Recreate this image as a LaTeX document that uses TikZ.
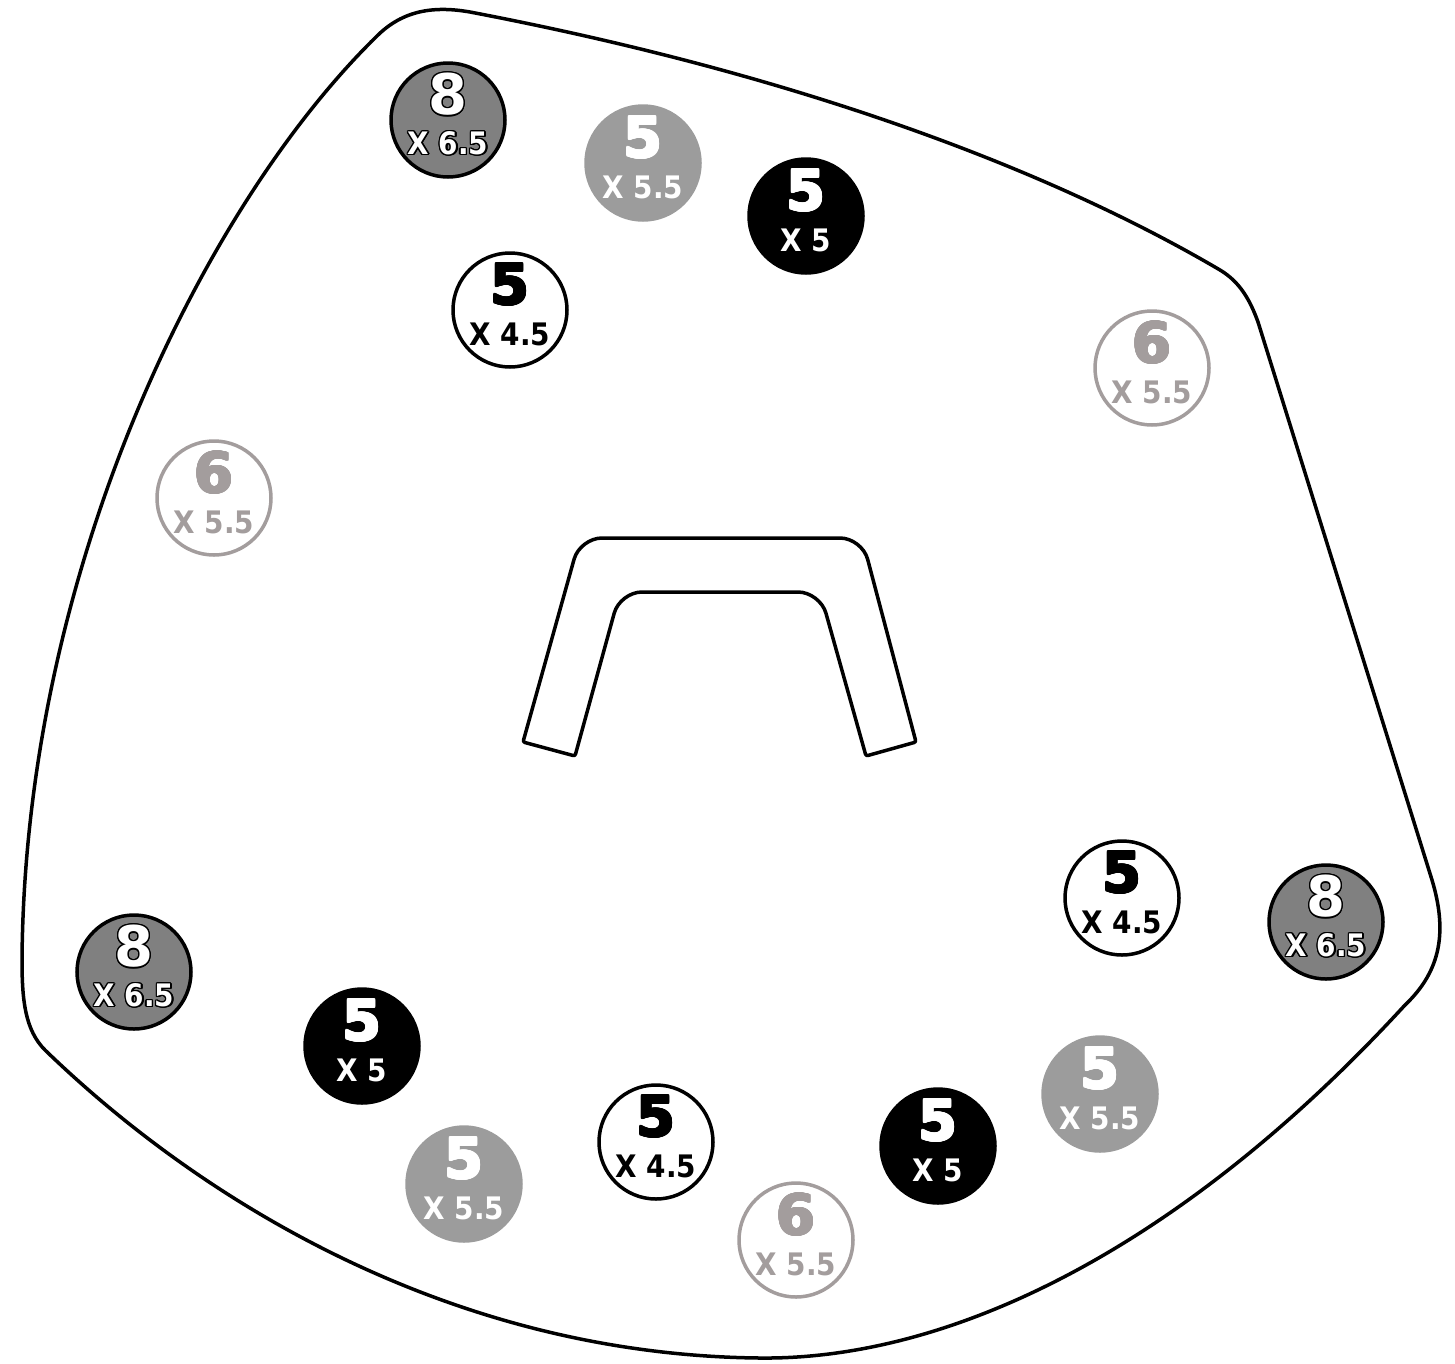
\documentclass[tikz,border=0pt]{standalone}
\usepackage{fontspec}
\usepackage{contour}
\newfontfamily\numfont{DejaVu Sans}
\newfontfamily\subfont{DejaVu Sans Condensed}
\contourlength{1.4pt}
\definecolor{darkg}{HTML}{808080}
\definecolor{midg}{HTML}{9C9C9C}
\definecolor{lightg}{HTML}{A39D9D}
\tikzset{
  disc/.style={circle, minimum size=114pt, inner sep=0pt, line width=3.5pt},
  eightdisc/.style={disc, fill=darkg, draw=black},
  graydisc/.style={disc, fill=midg, draw=midg},
  blackdisc/.style={disc, fill=black, draw=black},
  whitedisc/.style={disc, fill=white, draw=black},
  ringdisc/.style={disc, fill=white, draw=lightg},
  digitfont/.style={font=\numfont\bfseries\fontsize{56}{56}\selectfont},
  subtextfont/.style={font=\subfont\bfseries\fontsize{31}{31}\selectfont},
}
\newcommand{\holelabel}[4]{%
  \node[digitfont] at ([yshift=25pt]#1.center) {\contourlength{0.9pt}\contour{#4}{\textcolor{#4}{#2}}};
  \node[subtextfont, text=#4] at ([yshift=-24pt]#1.center) {#3};
}
\newcommand{\outlinedlabel}[3]{%
  \node[digitfont] at ([yshift=25pt]#1.center) {\contour{black}{\textcolor{white}{#2}}};
  \node[subtextfont] at ([yshift=-24pt]#1.center) {\contour{black}{\textcolor{white}{#3}}};
}
\begin{document}
\begin{tikzpicture}[x=1pt,y=-1pt]
\useasboundingbox (0,0) rectangle (1455,1363);
% outer plate outline
\draw[line width=3.5pt, line join=round]
  (22,960) .. controls (25,560) and (210,200) .. (375,38)
  .. controls (400,12) and (430,5) .. (470,12)
  .. controls (800,75) and (1050,170) .. (1220,270)
  .. controls (1240,282) and (1250,300) .. (1258,322)
  -- (1432,880)
  .. controls (1447,930) and (1442,970) .. (1405,1005)
  .. controls (1180,1250) and (950,1360) .. (760,1358)
  .. controls (450,1355) and (200,1200) .. (45,1050)
  .. controls (25,1030) and (22,1000) .. cycle;
% handle
\draw[line width=3.5pt, line join=round]
  (523,742) [rounded corners=22pt]-- (580,538) -- (862,538) [rounded corners=2pt]-- (916,742) -- (866,756)
  [rounded corners=22pt]-- (820,592) -- (620,592) [rounded corners=2pt]-- (575,756) -- cycle;
% holes
\node[eightdisc] (h1) at (448,120) {};
\node[graydisc]  (h2) at (643,163) {};
\node[blackdisc] (h3) at (806,216) {};
\node[whitedisc] (h4) at (510,310) {};
\node[ringdisc]  (h5) at (1152,368) {};
\node[ringdisc]  (h6) at (214,498) {};
\node[whitedisc] (h7) at (1122,898) {};
\node[eightdisc] (h8) at (1326,922) {};
\node[eightdisc] (h9) at (134,972) {};
\node[blackdisc] (h10) at (362,1046) {};
\node[graydisc]  (h11) at (1100,1094) {};
\node[whitedisc] (h12) at (656,1142) {};
\node[blackdisc] (h13) at (938,1146) {};
\node[graydisc]  (h14) at (464,1184) {};
\node[ringdisc]  (h15) at (796,1240) {};
\outlinedlabel{h1}{8}{X 6.5}
\holelabel{h2}{5}{X 5.5}{white}
\holelabel{h3}{5}{X 5}{white}
\holelabel{h4}{5}{X 4.5}{black}
\holelabel{h5}{6}{X 5.5}{lightg}
\holelabel{h6}{6}{X 5.5}{lightg}
\holelabel{h7}{5}{X 4.5}{black}
\outlinedlabel{h8}{8}{X 6.5}
\outlinedlabel{h9}{8}{X 6.5}
\holelabel{h10}{5}{X 5}{white}
\holelabel{h11}{5}{X 5.5}{white}
\holelabel{h12}{5}{X 4.5}{black}
\holelabel{h13}{5}{X 5}{white}
\holelabel{h14}{5}{X 5.5}{white}
\holelabel{h15}{6}{X 5.5}{lightg}
\end{tikzpicture}
\end{document}
